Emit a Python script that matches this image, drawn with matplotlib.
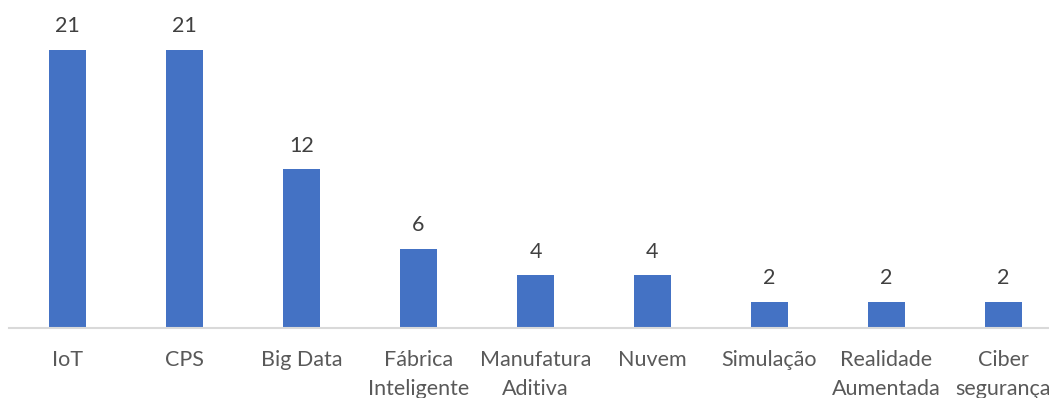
import matplotlib
matplotlib.use("Agg")
import matplotlib.pyplot as plt
import numpy as np

categories = ["IoT", "CPS", "Big Data", "Fábrica\nInteligente", "Manufatura\nAditiva",
              "Nuvem", "Simulação", "Realidade\nAumentada", "Ciber\nsegurança"]
counts = [21, 21, 12, 6, 4, 4, 2, 2, 2]

BAR_COLOR = "#4472C4"
plt.rcParams["font.family"] = ["Lato", "DejaVu Sans"]

W, H = 1049, 398
fig = plt.figure(figsize=(W / 100, H / 100), dpi=100)
# axes in pixel units: spans past the right edge, so the last label gets cut
ax = fig.add_axes([9 / W, 70 / H, 1053 / W, 318 / H])

x = np.arange(len(categories))
bars = ax.bar(x, counts, width=0.316, color=BAR_COLOR, zorder=2)
for b, v in zip(bars, counts):
    ax.text(b.get_x() + b.get_width() / 2, v + 1.0, str(v), ha="center", va="bottom",
            fontsize=15.5, color="#404040")

ax.set_xlim(-0.5, len(categories) - 0.5)
ax.set_ylim(0, 24)
ax.set_xticks(x)
ax.set_xticklabels(categories, fontsize=15.5, color="#595959", linespacing=1.55)
ax.tick_params(axis="x", length=0, pad=16)
ax.set_yticks([])
for s in ["top", "right", "left"]:
    ax.spines[s].set_visible(False)
ax.spines["bottom"].set_color("#D9D9D9")
ax.spines["bottom"].set_linewidth(1.5)

fig.savefig("out.png", dpi=100)
